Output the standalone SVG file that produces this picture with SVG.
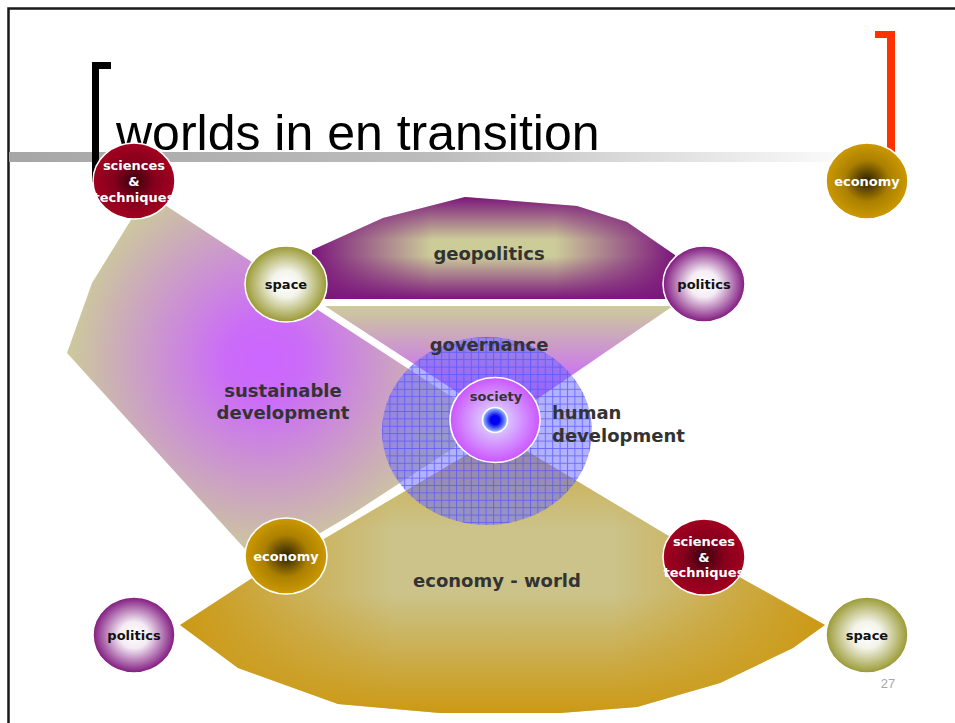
<svg xmlns="http://www.w3.org/2000/svg" width="955" height="723" viewBox="0 0 955 723">
<defs>
<style>
.lbl{font-family:"DejaVu Sans",Verdana,sans-serif;font-weight:bold;font-size:18px;fill:#333333}
.ct{font-family:"DejaVu Sans",Verdana,sans-serif;font-weight:bold;font-size:13px;text-anchor:middle}
.w{fill:#ffffff}
.k{fill:#111111}
.node{stroke:#ffffff;stroke-width:1.5}
</style>
<linearGradient id="bar" x1="8" y1="0" x2="870" y2="0" gradientUnits="userSpaceOnUse">
<stop offset="0" stop-color="#a6a6a6"/><stop offset="0.5" stop-color="#bdbdbd"/><stop offset="1" stop-color="#ffffff"/>
</linearGradient>
<radialGradient id="gSci"><stop offset="0" stop-color="#3a000e"/><stop offset="0.5" stop-color="#85001c"/><stop offset="1" stop-color="#a3001f"/></radialGradient>
<radialGradient id="gEco"><stop offset="0" stop-color="#2a1f00"/><stop offset="0.55" stop-color="#ab8000"/><stop offset="1" stop-color="#cc9900"/></radialGradient>
<radialGradient id="gSpace"><stop offset="0" stop-color="#ffffff"/><stop offset="0.35" stop-color="#f4f4ec"/><stop offset="1" stop-color="#999933"/></radialGradient>
<radialGradient id="gPol"><stop offset="0" stop-color="#ffffff"/><stop offset="0.35" stop-color="#f4ecf4"/><stop offset="1" stop-color="#80187f"/></radialGradient>
<radialGradient id="gSoc"><stop offset="0" stop-color="#eef4ff"/><stop offset="0.35" stop-color="#d8b8ff"/><stop offset="1" stop-color="#cc55ff"/></radialGradient>
<radialGradient id="gDot"><stop offset="0" stop-color="#0000ff"/><stop offset="0.35" stop-color="#0000ee"/><stop offset="1" stop-color="#a8ccff"/></radialGradient>
<linearGradient id="geoH" x1="312" y1="0" x2="675" y2="0" gradientUnits="userSpaceOnUse">
<stop offset="0" stop-color="#7b167c"/><stop offset="0.33" stop-color="#cccc99"/><stop offset="0.67" stop-color="#cccc99"/><stop offset="1" stop-color="#7b167c"/>
</linearGradient>
<linearGradient id="geoV" x1="0" y1="197" x2="0" y2="299" gradientUnits="userSpaceOnUse">
<stop offset="0" stop-color="#7b167c" stop-opacity="1"/><stop offset="0.42" stop-color="#7b167c" stop-opacity="0"/><stop offset="0.58" stop-color="#7b167c" stop-opacity="0"/><stop offset="1" stop-color="#7b167c" stop-opacity="1"/>
</linearGradient>
<linearGradient id="gov" x1="0" y1="306" x2="0" y2="420" gradientUnits="userSpaceOnUse">
<stop offset="0" stop-color="#cccc99"/><stop offset="0.6" stop-color="#cc77ee"/><stop offset="1" stop-color="#cc55ff"/>
</linearGradient>
<radialGradient id="sus" cx="265" cy="360" r="200" gradientUnits="userSpaceOnUse">
<stop offset="0" stop-color="#cc66ff"/><stop offset="0.2" stop-color="#cb6cf8"/><stop offset="1" stop-color="#cccc99"/>
</radialGradient>
<linearGradient id="ecoH" x1="180" y1="0" x2="825" y2="0" gradientUnits="userSpaceOnUse">
<stop offset="0" stop-color="#cc9914"/><stop offset="0.33" stop-color="#cbc38a"/><stop offset="0.67" stop-color="#cbc38a"/><stop offset="1" stop-color="#cc9914"/>
</linearGradient>
<linearGradient id="ecoV" x1="0" y1="430" x2="0" y2="713" gradientUnits="userSpaceOnUse">
<stop offset="0" stop-color="#cc9914" stop-opacity="0.7"/><stop offset="0.35" stop-color="#cc9914" stop-opacity="0"/><stop offset="0.58" stop-color="#cc9914" stop-opacity="0"/><stop offset="1" stop-color="#cc9914" stop-opacity="1"/>
</linearGradient>
<pattern id="grid" x="382" y="337" width="7.4" height="7.4" patternUnits="userSpaceOnUse">
<path d="M0,0.5 H7.4 M0.5,0 V7.4" stroke="#5555ff" stroke-width="1" fill="none"/>
</pattern>
</defs>

<rect x="0" y="0" width="955" height="723" fill="#ffffff"/>
<path d="M8.5,723 V8.5 H955" fill="none" stroke="#1a1a1a" stroke-width="2.5"/>
<rect x="9" y="152" width="860" height="10" fill="url(#bar)"/>
<path d="M92,182 V62 H111 V69 H99 V182 Z" fill="#000000"/>
<path d="M875,31 H895 V152 H887 V38 H875 Z" fill="#ff3300"/>
<text x="116" y="150" font-family="Liberation Sans, Arial, sans-serif" font-size="50" fill="#000000">worlds in en transition</text>

<g id="sustainable-development">
<polygon points="134,215 165,205 258,266 300,296 495,421 300,548 255,560 67,353 92,283" fill="url(#sus)"/>
</g>
<g id="geopolitics">
<polygon points="312,250 383,218 465,197 577,206 627,222 675,255 675,299 312,299" fill="url(#geoH)"/>
<polygon points="312,250 383,218 465,197 577,206 627,222 675,255 675,299 312,299" fill="url(#geoV)"/>
</g>
<g id="governance">
<polygon points="322,306 673,306 495,428" fill="url(#gov)"/>
</g>
<g id="economy-world">
<polygon points="180,625 286,556 495,432 704,557 825,625 793,648 720,683 637,707 560,713 440,713 338,704 238,668" fill="url(#ecoH)"/>
<polygon points="180,625 286,556 495,432 704,557 825,625 793,648 720,683 637,707 560,713 440,713 338,704 238,668" fill="url(#ecoV)"/>
</g>
<g id="connectors" stroke="#ffffff" stroke-width="7" stroke-linecap="butt">
<line x1="300" y1="294" x2="495" y2="421"/>
<line x1="300" y1="549" x2="495" y2="434"/>
</g>
<g id="human-development">
<ellipse cx="487" cy="431" rx="105" ry="94" fill="#6666ff" opacity="0.5"/>
<ellipse cx="487" cy="431" rx="105" ry="94" fill="url(#grid)" opacity="0.75"/>
</g>

<text class="lbl" x="489" y="260" text-anchor="middle">geopolitics</text>
<text class="lbl" x="489" y="351" text-anchor="middle">governance</text>
<text class="lbl" x="283" y="397" text-anchor="middle">sustainable</text>
<text class="lbl" x="283" y="419" text-anchor="middle">development</text>
<text class="lbl" x="552" y="419">human</text>
<text class="lbl" x="552" y="442">development</text>
<text class="lbl" x="497" y="587" text-anchor="middle">economy - world</text>

<g id="society">
<ellipse class="node" cx="495" cy="420" rx="45" ry="42.5" fill="url(#gSoc)"/>
<circle cx="495" cy="420" r="12.5" fill="url(#gDot)" stroke="#ffffff" stroke-width="1.5"/>
<text class="ct" x="496" y="401" fill="#333333">society</text>
</g>

<g id="sciences-top">
<ellipse class="node" cx="134" cy="181" rx="41" ry="38" fill="url(#gSci)"/>
<text class="ct w" x="134" y="170">sciences</text>
<text class="ct w" x="134" y="186">&amp;</text>
<text class="ct w" x="134" y="202">techniques</text>
</g>
<g id="economy-top">
<ellipse class="node" cx="867" cy="181" rx="41" ry="38" fill="url(#gEco)"/>
<text class="ct w" x="867" y="186">economy</text>
</g>
<g id="space-top">
<ellipse class="node" cx="286" cy="284" rx="41" ry="38" fill="url(#gSpace)"/>
<text class="ct k" x="286" y="289">space</text>
</g>
<g id="politics-top">
<ellipse class="node" cx="704" cy="284" rx="41" ry="38" fill="url(#gPol)"/>
<text class="ct k" x="704" y="289">politics</text>
</g>
<g id="economy-bottom">
<ellipse class="node" cx="286" cy="556" rx="41" ry="38" fill="url(#gEco)"/>
<text class="ct w" x="286" y="561">economy</text>
</g>
<g id="sciences-bottom">
<ellipse class="node" cx="704" cy="557" rx="41" ry="38" fill="url(#gSci)"/>
<text class="ct w" x="704" y="546">sciences</text>
<text class="ct w" x="704" y="562">&amp;</text>
<text class="ct w" x="704" y="577">techniques</text>
</g>
<g id="politics-bottom">
<ellipse class="node" cx="134" cy="635" rx="41" ry="38" fill="url(#gPol)"/>
<text class="ct k" x="134" y="640">politics</text>
</g>
<g id="space-bottom">
<ellipse class="node" cx="867" cy="635" rx="41" ry="38" fill="url(#gSpace)"/>
<text class="ct k" x="867" y="640">space</text>
</g>
<text x="888" y="688" text-anchor="middle" font-family="Liberation Sans, Arial, sans-serif" font-size="13" fill="#a8a8a8">27</text>
</svg>
